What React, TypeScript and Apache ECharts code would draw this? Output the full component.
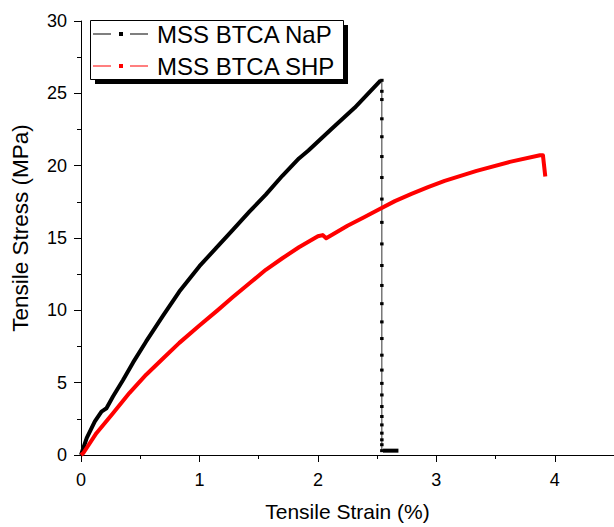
import React, { useEffect, useRef } from "react";
import * as echarts from "echarts";

// Tensile strain (%) / tensile stress (MPa)
const napCurve: [number, number][] = [
  [0, 0], [0.048, 1.17], [0.117, 2.32], [0.173, 3.0], [0.195, 3.12], [0.215, 3.23],
  [0.27, 4.04], [0.355, 5.18], [0.44, 6.4], [0.55, 7.85], [0.69, 9.6], [0.83, 11.3],
  [1.0, 13.05], [1.14, 14.3], [1.28, 15.55], [1.42, 16.8], [1.56, 18.0], [1.7, 19.3],
  [1.84, 20.5], [1.92, 21.05], [2.11, 22.5], [2.31, 24.0], [2.53, 25.9],
];
const napDropX = 2.54;
const napDropY: number[] = [
  25.9, 25.14, 24.57, 23.24, 22.0, 20.63, 19.18, 17.69, 16.08, 14.59, 13.1, 11.72, 10.46,
  9.2, 8.05, 6.9, 5.87, 4.95, 4.15, 3.35, 2.66, 2.08, 1.51, 1.05, 0.71, 0.3,
];
const napTail: [number, number][] = [[2.55, 0.3], [2.68, 0.3]];
const shpCurve: [number, number][] = [
  [0, 0], [0.02, 0.14], [0.13, 1.51], [0.27, 2.89], [0.41, 4.3], [0.55, 5.55], [0.69, 6.65],
  [0.83, 7.75], [1.0, 8.95], [1.15, 9.98], [1.28, 10.9], [1.42, 11.85], [1.56, 12.8],
  [1.7, 13.6], [1.84, 14.36], [2.0, 15.12], [2.04, 15.2], [2.07, 14.98], [2.25, 15.85],
  [2.39, 16.43], [2.51, 16.95], [2.65, 17.55], [2.79, 18.05], [2.93, 18.52], [3.07, 18.95],
  [3.34, 19.64], [3.62, 20.26], [3.875, 20.72], [3.9, 20.72], [3.92, 19.25],
];
const seriesNames = ["MSS BTCA NaP", "MSS BTCA SHP"];
const xTitle = "Tensile Strain (%)";
const yTitle = "Tensile Stress (MPa)";

const FONT = "Arial, 'Liberation Sans', sans-serif";
const legendIcon = "path://M0,4.5H18V5.5H0Z M26,3H30V7H26Z M37,4.5H55V5.5H37Z";

export default function App() {
  const ref = useRef<HTMLDivElement>(null);
  useEffect(() => {
    if (!ref.current) return;
    const chart = echarts.init(ref.current, undefined, { renderer: "svg" });
    const axisCommon = {
      axisLine: { show: true, lineStyle: { color: "#000", width: 1 } },
      axisTick: { show: true, inside: false, length: 7, lineStyle: { color: "#000" } },
      minorTick: { show: true, splitNumber: 2, length: 4, lineStyle: { color: "#000" } },
      splitLine: { show: false },
      minorSplitLine: { show: false },
      axisLabel: { color: "#000", fontSize: 18, fontFamily: FONT },
    };
    chart.setOption({
      animation: false,
      backgroundColor: "#fff",
      grid: { left: 81, right: -2, top: 21, bottom: 70, containLabel: false },
      xAxis: {
        type: "value", min: 0, max: 4.5, interval: 1,
        name: xTitle, nameLocation: "middle", nameGap: 46,
        nameTextStyle: { color: "#000", fontSize: 21, fontFamily: FONT },
        ...axisCommon,
        axisLabel: { ...axisCommon.axisLabel, margin: 16, showMaxLabel: false },
      },
      yAxis: {
        type: "value", min: 0, max: 30, interval: 5,
        name: yTitle, nameLocation: "middle", nameGap: 49,
        nameTextStyle: { color: "#000", fontSize: 22.5, fontFamily: FONT, padding: [0, 0, 0, 20] },
        ...axisCommon,
        axisLabel: { ...axisCommon.axisLabel, margin: 14 },
      },
      legend: {
        left: 90, top: 19, orient: "vertical",
        padding: [3, 5, 2, 3], itemGap: 8,
        itemWidth: 55, itemHeight: 10,
        data: seriesNames.map((n) => ({ name: n, icon: legendIcon })),
        textStyle: { color: "#000", fontSize: 24, fontFamily: FONT, padding: [0, 0, 0, 4] },
        z: 10,
      },
      graphic: [
        { type: "rect", shape: { x: 95, y: 25, width: 253, height: 59 }, style: { fill: "#000" }, z: 8 },
        { type: "rect", shape: { x: 90.5, y: 20.5, width: 253, height: 59 }, style: { fill: "#fff", stroke: "#000", lineWidth: 1 }, z: 9 },
      ],
      series: [
        {
          name: seriesNames[0], type: "line", data: napCurve, showSymbol: false, symbol: "none",
          lineStyle: { color: "#000", width: 4, join: "round" }, itemStyle: { color: "#000" }, z: 3,
        },
        {
          name: "nap-drop", type: "line",
          data: napDropY.map((y) => [napDropX, y]),
          symbol: "rect", symbolSize: [3.5, 3], showSymbol: true,
          lineStyle: { color: "#333", width: 1 }, itemStyle: { color: "#000" }, z: 3,
        },
        {
          name: "nap-tail", type: "line", data: napTail, symbol: "none",
          lineStyle: { color: "#000", width: 4 }, z: 3,
        },
        {
          name: seriesNames[1], type: "line", data: shpCurve, showSymbol: false, symbol: "none",
          lineStyle: { color: "#ff0000", width: 4, join: "round" }, itemStyle: { color: "#ff0000" }, z: 4,
        },
      ],
    });
    return () => chart.dispose();
  }, []);
  return <div ref={ref} style={{ width: 614, height: 527, position: "absolute", left: 0, top: 0 }} />;
}
